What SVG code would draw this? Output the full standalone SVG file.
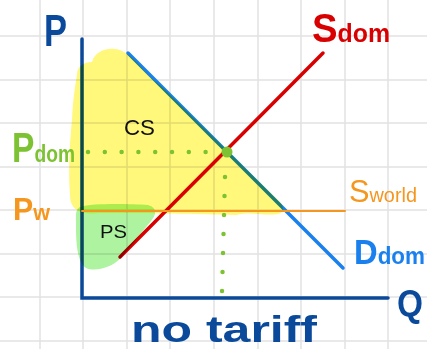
<svg xmlns="http://www.w3.org/2000/svg" width="427" height="349" viewBox="0 0 427 349">
<style>
.grid line{stroke:#e2e2e2;stroke-width:1.5}
.hl{mix-blend-mode:multiply}
text{font-family:"Liberation Sans","DejaVu Sans",sans-serif;font-weight:bold}
.thin{font-weight:normal}
</style>
<rect width="427" height="349" fill="#ffffff"/>
<g class="grid">
<line x1="40" y1="0" x2="40" y2="349"/><line x1="83" y1="0" x2="83" y2="349"/><line x1="127" y1="0" x2="127" y2="349"/><line x1="170" y1="0" x2="170" y2="349"/><line x1="214" y1="0" x2="214" y2="349"/><line x1="258" y1="0" x2="258" y2="349"/><line x1="301" y1="0" x2="301" y2="349"/><line x1="345" y1="0" x2="345" y2="349"/><line x1="388" y1="0" x2="388" y2="349"/>
<line x1="0" y1="36" x2="427" y2="36"/><line x1="0" y1="80" x2="427" y2="80"/><line x1="0" y1="123" x2="427" y2="123"/><line x1="0" y1="167" x2="427" y2="167"/><line x1="0" y1="210" x2="427" y2="210"/><line x1="0" y1="254" x2="427" y2="254"/><line x1="0" y1="297" x2="427" y2="297"/><line x1="0" y1="341" x2="427" y2="341"/>
</g>
<g id="connectors" fill="none" stroke-linecap="round">
<path id="axes" d="M82,39 L82,298 L388,298" stroke="#0b4a9b" stroke-width="3.5" stroke-linejoin="miter"/>
<line id="demand" x1="128" y1="53" x2="343" y2="268" stroke="#1a80ee" stroke-width="3.5"/>
<line id="supply" x1="120" y1="257" x2="323" y2="53" stroke="#d80000" stroke-width="3.5"/>
</g>
<g id="cs-area" class="hl">
<path d="M77,75 C77,66 84,62 92,62 C95,52 105,48 115,49 C127,50 138,64 150,77 L163,88 L279,201 C285,207 284,213 278,214 C262,216 252,211 236,215 C200,214 150,213 100,213 C80,215 70,210 70,195 C68,170 70,140 72,120 C73,100 75,86 77,75 Z" fill="#fff87a"/>
</g>
<g id="ps-area" class="hl">
<path d="M80,207 C92,203 130,204 148,205 C158,208 156,215 151,221 L121,258 C111,268 95,272 86,268 C77,262 76,242 76,226 C76,215 75,210 80,207 Z" fill="#aef3a0"/>
</g>
<g id="world-price" fill="none" stroke-linecap="round">
<line x1="82" y1="211" x2="345" y2="211" stroke="#f5961e" stroke-width="2"/>
</g>
<g id="dom-guides" fill="none" stroke="#7cc232" stroke-width="4.5" stroke-linecap="round" stroke-dasharray="0 16.8">
<line x1="88" y1="152" x2="222" y2="152"/>
<line x1="225" y1="177" x2="222" y2="292" stroke-dasharray="0 19"/>
</g>
<g id="equilibrium"><circle cx="227" cy="152" r="5.5" fill="#7cc232"/></g>
<g id="labels">
<text id="p-axis" x="44" y="46" font-size="44" fill="#0b4a9b" textLength="23" lengthAdjust="spacingAndGlyphs">P</text>
<text id="q-axis" x="397" y="316" font-size="36" fill="#0b4a9b" textLength="26" lengthAdjust="spacingAndGlyphs">Q</text>
<text id="sdom" x="312" y="42" fill="#d80000" textLength="78" lengthAdjust="spacingAndGlyphs"><tspan font-size="40">S</tspan><tspan font-size="26">dom</tspan></text>
<text id="pdom" x="12" y="162" fill="#7cc232" textLength="63" lengthAdjust="spacingAndGlyphs"><tspan font-size="42">P</tspan><tspan font-size="24">dom</tspan></text>
<text id="pw" x="13" y="220" fill="#f5961e" textLength="37" lengthAdjust="spacingAndGlyphs"><tspan font-size="31">P</tspan><tspan font-size="22">w</tspan></text>
<text id="sworld" class="thin" x="349" y="202" fill="#f5961e" textLength="68" lengthAdjust="spacingAndGlyphs"><tspan font-size="31">S</tspan><tspan font-size="20">world</tspan></text>
<text id="ddom" x="354" y="264" fill="#1a80ee" textLength="71" lengthAdjust="spacingAndGlyphs"><tspan font-size="35">D</tspan><tspan font-size="24">dom</tspan></text>
<text id="cs" class="thin" x="124" y="135" font-size="22" fill="#111111" textLength="31" lengthAdjust="spacingAndGlyphs">CS</text>
<text id="ps" class="thin" x="100" y="238" font-size="18" fill="#111111" textLength="27" lengthAdjust="spacingAndGlyphs">PS</text>
<text id="title" x="131" y="342" font-size="36" fill="#0b4a9b" textLength="186" lengthAdjust="spacingAndGlyphs">no tariff</text>
</g>
</svg>
